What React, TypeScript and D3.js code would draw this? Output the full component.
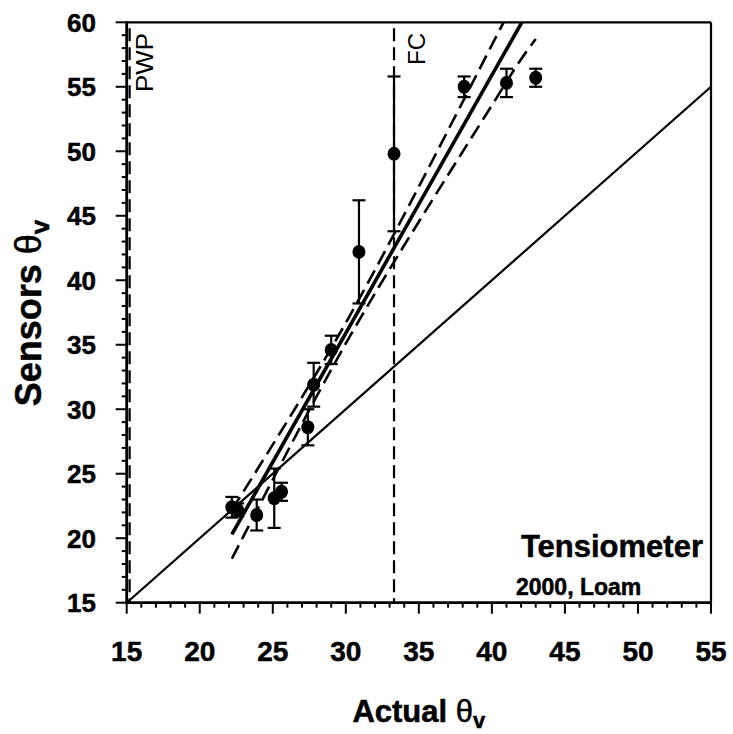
import React from 'react';
import * as d3 from 'd3';

// ---- data ----
const actualTheta = [22.2, 22.6, 23.9, 25.1, 25.6, 27.4, 27.8, 29.0, 30.9, 33.3, 38.1, 41.0, 43.0];
const sensorTheta = [22.4, 22.2, 21.8, 23.1, 23.6, 28.6, 31.9, 34.6, 42.2, 49.8, 55.0, 55.3, 55.7];
const sensorErr = [0.8, 0.5, 1.2, 2.3, 0.7, 1.4, 1.7, 1.1, 4.0, 6.0, 0.8, 1.1, 0.7];

const fitX = [22.2, 42.05];
const fitY = [20.3, 60];

const upperBandX = [22.2, 24, 26, 28, 30, 32, 34, 36, 38, 40, 40.8];
const upperBandY = [22.19, 25.44, 29.09, 32.81, 36.7, 40.81, 45.09, 49.44, 53.83, 58.24, 60];
const lowerBandX = [22.2, 24, 26, 28, 30, 32, 34, 36, 38, 40, 42, 43];
const lowerBandY = [18.41, 22.36, 26.71, 30.99, 35.1, 38.99, 42.71, 46.36, 49.97, 53.56, 57.14, 58.7];

const oneToOneX = [15, 55];
const oneToOneY = [15, 55];

const pwpX = 15.2;
const fcX = 33.3;

const xTicks = [15, 20, 25, 30, 35, 40, 45, 50, 55];
const yTicks = [15, 20, 25, 30, 35, 40, 45, 50, 55, 60];

const FONT = "'Liberation Sans', Arial, Helvetica, sans-serif";

export default function App() {
  const W = 733, H = 734;
  const left = 126.7, right = 711, top = 22.3, bottom = 602.7;
  const x = d3.scaleLinear().domain([15, 55]).range([left, right]);
  const y = d3.scaleLinear().domain([15, 60]).range([bottom, top]);

  const lineGen = d3.line<[number, number]>().x(d => x(d[0])).y(d => y(d[1]));
  const curveGen = d3.line<[number, number]>().x(d => x(d[0])).y(d => y(d[1])).curve(d3.curveMonotoneX);

  const zip = (a: number[], b: number[]) => a.map((v, i) => [v, b[i]] as [number, number]);

  const minorX = d3.range(15, 55.01, 1);
  const minorY = d3.range(15, 60.01, 1);

  const capW = 6.5;
  const boldStroke = { stroke: '#000', strokeWidth: 0.5 };

  return (
    <svg width={W} height={H} style={{ position: 'absolute', left: 0, top: 0, background: '#fff' }}
      fontFamily={FONT}>
      <rect x={0} y={0} width={W} height={H} fill="#fff" />
      {/* 1:1 line */}
      <path d={lineGen(zip(oneToOneX, oneToOneY)) || ''} stroke="#000" strokeWidth={2.2} fill="none" />
      {/* PWP and FC */}
      <line x1={x(pwpX)} x2={x(pwpX)} y1={y(60) + 6} y2={bottom} stroke="#000" strokeWidth={2.2} strokeDasharray="13,6" />
      <line x1={x(fcX)} x2={x(fcX)} y1={y(60) + 6} y2={bottom} stroke="#000" strokeWidth={2.2} strokeDasharray="13,6" />
      {/* confidence band */}
      <path d={curveGen(zip(upperBandX, upperBandY)) || ''} stroke="#000" strokeWidth={2.6} fill="none" strokeDasharray="15,7" />
      <path d={curveGen(zip(lowerBandX, lowerBandY)) || ''} stroke="#000" strokeWidth={2.6} fill="none" strokeDasharray="15,7" />
      {/* fit */}
      <path d={lineGen(zip(fitX, fitY)) || ''} stroke="#000" strokeWidth={3.6} fill="none" />
      {/* error bars */}
      {actualTheta.map((a, i) => {
        const cx = x(a);
        const y1 = y(sensorTheta[i] + sensorErr[i]);
        const y2 = y(sensorTheta[i] - sensorErr[i]);
        return (
          <g key={'e' + i} stroke="#000" strokeWidth={2.2}>
            <line x1={cx} x2={cx} y1={y1} y2={y2} />
            <line x1={cx - capW} x2={cx + capW} y1={y1} y2={y1} />
            <line x1={cx - capW} x2={cx + capW} y1={y2} y2={y2} />
          </g>
        );
      })}
      {/* points */}
      {actualTheta.map((a, i) => (
        <ellipse key={'p' + i} cx={x(a)} cy={y(sensorTheta[i])} rx={6.5} ry={7} fill="#000" />
      ))}
      {/* frame */}
      <line x1={left} x2={right} y1={top} y2={top} stroke="#000" strokeWidth={2.2} />
      <line x1={right} x2={right} y1={top} y2={bottom} stroke="#000" strokeWidth={2.2} />
      <line x1={left} x2={left} y1={top - 1} y2={bottom + 1.2} stroke="#000" strokeWidth={2.8} />
      <line x1={left - 1.2} x2={right + 1} y1={bottom} y2={bottom} stroke="#000" strokeWidth={2.8} />
      {/* ticks */}
      {minorX.map(v => (
        <line key={'mx' + v} x1={x(v)} x2={x(v)} y1={bottom} y2={bottom + (v % 5 === 0 ? 11 : 5)} stroke="#000" strokeWidth={2} />
      ))}
      {minorY.map(v => (
        <line key={'my' + v} x1={left} x2={left - (v % 5 === 0 ? 11 : 5)} y1={y(v)} y2={y(v)} stroke="#000" strokeWidth={2} />
      ))}
      {/* tick labels */}
      {xTicks.map(v => (
        <text key={'xl' + v} x={x(v)} y={661} textAnchor="middle" fontSize={28} fontWeight="bold" {...boldStroke}>{v}</text>
      ))}
      {yTicks.map(v => (
        <text key={'yl' + v} x={96} y={y(v)} dy="0.36em" textAnchor="end" fontSize={26} fontWeight="bold" {...boldStroke}>{v}</text>
      ))}
      {/* axis titles */}
      <text x={(left + right) / 2} y={722} textAnchor="middle" fontSize={31} {...boldStroke}>
        <tspan fontWeight="bold">Actual </tspan>
        <tspan fontWeight="normal">θ</tspan>
        <tspan fontWeight="bold" fontSize={22} dy={6}>v</tspan>
      </text>
      <text transform={`translate(41,313) rotate(-90)`} textAnchor="middle" fontSize={36} {...boldStroke}>
        <tspan fontWeight="bold">Sensors </tspan>
        <tspan fontWeight="normal">θ</tspan>
        <tspan fontWeight="bold" fontSize={26} dy={8}>v</tspan>
      </text>
      {/* line labels */}
      <text transform={`translate(153,92) rotate(-90)`} fontSize={24} textLength={59} lengthAdjust="spacingAndGlyphs">PWP</text>
      <text transform={`translate(425,65) rotate(-90)`} fontSize={24}>FC</text>
      {/* annotation */}
      <text x={703} y={557} textAnchor="end" fontSize={31} fontWeight="bold" {...boldStroke}>Tensiometer</text>
      <text x={516} y={595} fontSize={23} fontWeight="bold" {...boldStroke}>2000, Loam</text>
    </svg>
  );
}
